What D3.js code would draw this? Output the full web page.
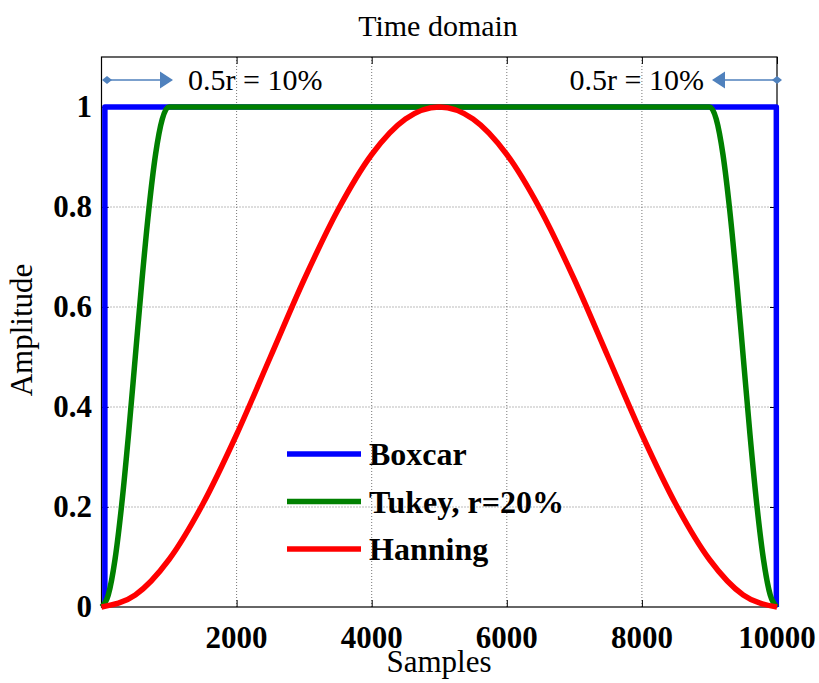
<!DOCTYPE html>
<html>
<head>
<meta charset="utf-8">
<title>Time domain</title>
<script src="https://cdn.jsdelivr.net/npm/d3@7"></script>
<style>
  body { margin: 0; background: #fff; }
  text { font-family: "Liberation Serif", "Times New Roman", serif; fill: #000; }
  .tick-label { font-weight: bold; font-size: 31px; }
  .grid { stroke: #777; stroke-width: 1; stroke-dasharray: 1,2; }
</style>
</head>
<body>
<div id="chart"></div>
<script>
// ---- data ----
var xTicks = [2000, 4000, 6000, 8000, 10000];
var yTicks = [0, 0.2, 0.4, 0.6, 0.8, 1];

var boxcarX = [50, 50, 9990, 9990];
var boxcarY = [0, 1, 1, 0];

var tukeyX = [0, 100, 200, 300, 400, 500, 600, 700, 800, 900, 1000,
              9000, 9100, 9200, 9300, 9400, 9500, 9600, 9700, 9800, 9900, 10000];
var tukeyY = [0, 0.024, 0.095, 0.206, 0.345, 0.5, 0.655, 0.794, 0.905, 0.976, 1,
              1, 0.976, 0.905, 0.794, 0.655, 0.5, 0.345, 0.206, 0.095, 0.024, 0];

var hanningX = [0, 500, 1000, 1500, 2000, 2500, 3000, 3500, 4000, 4500, 5000,
                5500, 6000, 6500, 7000, 7500, 8000, 8500, 9000, 9500, 10000];
var hanningY = [0, 0.024, 0.095, 0.206, 0.345, 0.5, 0.655, 0.794, 0.905, 0.976, 1,
                0.976, 0.905, 0.794, 0.655, 0.5, 0.345, 0.206, 0.095, 0.024, 0];

var seriesNames = ["Boxcar", "Tukey, r=20%", "Hanning"];
var seriesColors = ["#0000ff", "#008000", "#ff0000"];

var width = 819, height = 683;
var plotLeft = 101.5, plotRight = 777, plotTop = 57, plotBottom = 607;

var svg = d3.select("#chart").append("svg")
  .attr("width", width)
  .attr("height", height);

var x = d3.scaleLinear().domain([0, 10000]).range([plotLeft, plotRight]);
var y = d3.scaleLinear().domain([0, 1.1]).range([plotBottom, plotTop]);

// grid
svg.append("g").selectAll("line")
  .data(xTicks.filter(function(d) { return d < 10000; }))
  .enter().append("line")
  .attr("class", "grid")
  .attr("x1", function(d) { return x(d); }).attr("x2", function(d) { return x(d); })
  .attr("y1", plotTop).attr("y2", plotBottom);

svg.append("g").selectAll("line")
  .data(yTicks.filter(function(d) { return d > 0; }))
  .enter().append("line")
  .attr("class", "grid")
  .attr("x1", plotLeft).attr("x2", plotRight)
  .attr("y1", function(d) { return y(d); }).attr("y2", function(d) { return y(d); });

// axes with inward ticks
var xAxisB = d3.axisBottom(x).tickValues(xTicks).tickSizeInner(-7).tickSizeOuter(0).tickFormat("");
var xAxisT = d3.axisTop(x).tickValues(xTicks).tickSizeInner(-7).tickSizeOuter(0).tickFormat("");
var yAxisL = d3.axisLeft(y).tickValues(yTicks).tickSizeInner(-7).tickSizeOuter(0).tickFormat("");
var yAxisR = d3.axisRight(y).tickValues(yTicks).tickSizeInner(-7).tickSizeOuter(0).tickFormat("");

svg.append("g").attr("transform", "translate(0," + plotBottom + ")").call(xAxisB);
svg.append("g").attr("transform", "translate(0," + plotTop + ")").call(xAxisT);
svg.append("g").attr("transform", "translate(" + plotLeft + ",0)").call(yAxisL);
svg.append("g").attr("transform", "translate(" + plotRight + ",0)").call(yAxisR);
svg.selectAll(".domain").remove();
svg.selectAll(".tick line").attr("stroke", "#000");

svg.append("rect")
  .attr("x", plotLeft).attr("y", plotTop)
  .attr("width", plotRight - plotLeft).attr("height", plotBottom - plotTop)
  .attr("fill", "none").attr("stroke", "#000").attr("stroke-width", 1.2);

// tick labels
svg.append("g").selectAll("text")
  .data(xTicks).enter().append("text")
  .attr("class", "tick-label")
  .attr("x", function(d) { return x(d); })
  .attr("y", 648)
  .attr("text-anchor", "middle")
  .text(function(d) { return d; });

svg.append("g").selectAll("text")
  .data(yTicks).enter().append("text")
  .attr("class", "tick-label")
  .attr("x", 92)
  .attr("y", function(d) { return y(d) + 10; })
  .attr("text-anchor", "end")
  .text(function(d) { return d; });

// lines
var line = d3.line()
  .x(function(d) { return x(d[0]); })
  .y(function(d) { return y(d[1]); });

var series = [
  d3.zip(boxcarX, boxcarY),
  d3.zip(tukeyX, tukeyY),
  d3.zip(hanningX, hanningY)
];
var curves = [d3.curveLinear, d3.curveMonotoneX, d3.curveMonotoneX];

series.forEach(function(s, i) {
  svg.append("path")
    .datum(s)
    .attr("fill", "none")
    .attr("stroke", seriesColors[i])
    .attr("stroke-width", 5.5)
    .attr("stroke-linejoin", "round")
    .attr("d", line.curve(curves[i]));
});

// legend
var legend = svg.append("g");
seriesNames.forEach(function(name, i) {
  var ly = 454 + i * 47.5;
  legend.append("line")
    .attr("x1", 287).attr("x2", 361)
    .attr("y1", ly).attr("y2", ly)
    .attr("stroke", seriesColors[i])
    .attr("stroke-width", 5.5);
  legend.append("text")
    .attr("x", 369).attr("y", ly + 11)
    .style("font-weight", "bold")
    .style("font-size", "32px")
    .text(name);
});

// titles
svg.append("text")
  .attr("x", 438).attr("y", 36)
  .attr("text-anchor", "middle")
  .style("font-size", "30px")
  .text("Time domain");

svg.append("text")
  .attr("x", 439).attr("y", 672)
  .attr("text-anchor", "middle")
  .style("font-size", "31px")
  .text("Samples");

svg.append("text")
  .attr("transform", "translate(32,330) rotate(-90)")
  .attr("text-anchor", "middle")
  .style("font-size", "31px")
  .text("Amplitude");

// annotations
var annColor = "#4f81bd";
function arrow(xFrom, xTo, ay) {
  var g = svg.append("g");
  var dir = xTo > xFrom ? 1 : -1;
  g.append("line")
    .attr("x1", xFrom).attr("x2", xTo - dir * 12)
    .attr("y1", ay).attr("y2", ay)
    .attr("stroke", annColor).attr("stroke-width", 1.5);
  g.append("path")
    .attr("d", "M" + xTo + "," + ay + "L" + (xTo - dir * 13) + "," + (ay - 8.5) +
               "L" + (xTo - dir * 13) + "," + (ay + 8.5) + "Z")
    .attr("fill", annColor);
  g.append("path")
    .attr("d", "M" + (xFrom - 5) + "," + ay + "L" + xFrom + "," + (ay - 4) +
               "L" + (xFrom + 5) + "," + ay + "L" + xFrom + "," + (ay + 4) + "Z")
    .attr("fill", annColor);
}
arrow(107, 173, 80);
arrow(777, 712, 80);

svg.append("text")
  .attr("x", 188).attr("y", 90)
  .style("font-size", "30px")
  .text("0.5r = 10%");

svg.append("text")
  .attr("x", 704).attr("y", 90)
  .attr("text-anchor", "end")
  .style("font-size", "30px")
  .text("0.5r = 10%");
</script>
</body>
</html>
